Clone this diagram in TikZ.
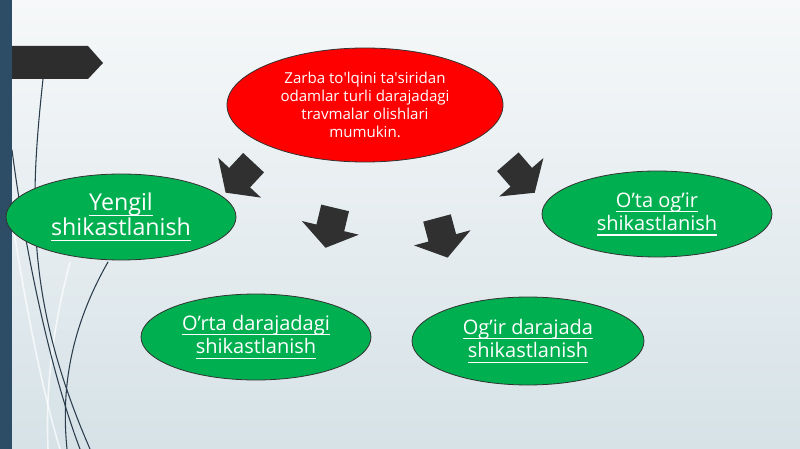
\documentclass[tikz,border=0pt]{standalone}
\usepackage{fontspec}
\setmainfont{Open Sans}
\usetikzlibrary{shapes.geometric,shapes.arrows}
\newcommand\ulword[1]{\setbox0\hbox{#1}\rlap{\rule[-.25em]{\wd0}{.06em}}\box0}
\definecolor{slidetop}{HTML}{F6F8F9}
\definecolor{slidebottom}{HTML}{D6E2E7}
\definecolor{barblue}{HTML}{2D4C65}
\definecolor{tabgray}{HTML}{2D2D2D}
\definecolor{arrowgray}{HTML}{303030}
\definecolor{curvegray}{HTML}{2B3D4C}
\definecolor{okgreen}{HTML}{00B050}
\begin{document}
\begin{tikzpicture}[x=.75pt,y=-.75pt,line join=round,line cap=round,
		oval/.style={ellipse,draw=black!80,line width=.6pt,inner sep=0pt,align=center,text=white},
		injury/.style={oval,fill=okgreen,minimum width=172.5pt,minimum height=64.5pt,font=\fontsize{15}{17.5}\selectfont},
		blockarrow/.style={single arrow,fill=arrowgray,inner xsep=0pt,inner ysep=10.5pt,minimum height=30.75pt,single arrow head extend=11.25pt,single arrow tip angle=110}]
	\useasboundingbox (0,0) rectangle (800,449);
	\shade[top color=slidetop,bottom color=slidebottom] (0,0) rectangle (800,449);
	\draw[white,line width=1.2pt,opacity=.7] (14,232) .. controls (30,330) and (45,400) .. (60,449);
	\draw[white,line width=1.2pt,opacity=.7] (70,262) .. controls (55,320) and (45,380) .. (48,449);
	\draw[curvegray,line width=.8pt] (43,79) .. controls (30,200) and (25,300) .. (90,449);
	\draw[curvegray,line width=.8pt] (12,150) .. controls (25,250) and (50,370) .. (80,449);
	\draw[curvegray,line width=.8pt] (108,262) .. controls (75,320) and (60,380) .. (67,449);
	\fill[barblue] (0,0) rectangle (12,449);
	\fill[tabgray] (12,46) -- (88,46) -- (103,63) -- (88,79) -- (12,79) -- cycle;
	\node[oval,fill=red,minimum width=207pt,minimum height=85.5pt,font=\fontsize{11.3}{13.5}\selectfont] (zarba) at (365,105) {Zarba to\textquotesingle lqini ta\textquotesingle siridan\\odamlar turli darajadagi\\travmalar olishlari\\mumukin.};
	\node[injury,minimum width=172.5pt,font=\fontsize{17.4}{18.75}\selectfont] (yengil) at (121,217) {\ulword{Yengil}\\\ulword{shikastlanish}};
	\node[injury] (ota) at (657,214) {\ulword{O’ta og’ir}\\\ulword{shikastlanish}};
	\node[injury] (orta) at (256,337) {\ulword{O’rta darajadagi}\\\ulword{shikastlanish}};
	\node[injury,minimum width=174pt,minimum height=66pt] (ogir) at (528,341) {\ulword{Og’ir darajada}\\\ulword{shikastlanish}};
	\foreach \n/\x/\y/\a in {1/243/174/-133,2/331.5/223/-103.5,3/441/233/-75,4/518/173.5/-49}{
		\node[blockarrow,rotate=\a] (arrow\n) at (\x,\y) {};
	}
\end{tikzpicture}
\end{document}
